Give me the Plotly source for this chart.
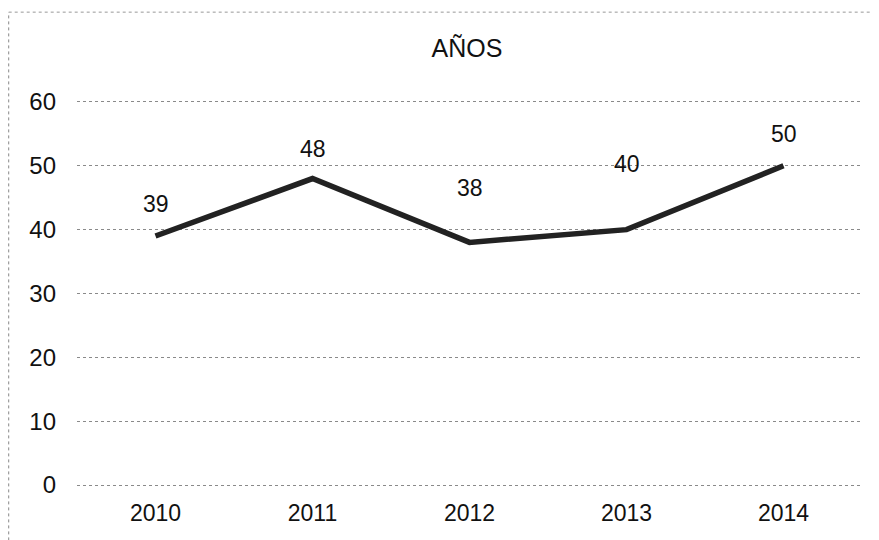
import plotly.graph_objects as go

years = ["2010", "2011", "2012", "2013", "2014"]
values = [39, 48, 38, 40, 50]
title_text = "AÑOS"

label_yshift = [32, 30, 54, 66, 32]

fig = go.Figure()
fig.add_trace(go.Scatter(
    x=years, y=values, mode="lines",
    line=dict(color="#222222", width=5.5),
    hoverinfo="skip", showlegend=False,
))

annotations = []
for i, (v, s) in enumerate(zip(values, label_yshift)):
    annotations.append(dict(x=i, y=v, xref="x", yref="y", text=str(v), showarrow=False,
                            yshift=s, font=dict(family="Arial", size=23, color="#111")))

# page body has an 8px default margin; compensate so the plot area sits where the reference's does
W, H = 871, 532
fig.update_layout(
    width=W, height=H,
    paper_bgcolor="white", plot_bgcolor="white",
    margin=dict(l=69, r=17, t=92, b=53),
    title=dict(text=title_text, x=(467 - 8) / W, xanchor="center", y=1 - (48 - 8) / H, yanchor="middle",
               font=dict(family="Arial", size=25, color="#111")),
    font=dict(family="Arial", size=23, color="#111"),
    annotations=annotations,
)
fig.update_xaxes(type="category", range=[-0.5, 4.5], showgrid=False, showline=False,
                 ticks="", tickfont=dict(size=23), ticklabelstandoff=10)
fig.update_yaxes(range=[-0.3, 60.3], dtick=10, showgrid=True, gridcolor="#8a8a8a", griddash="dot",
                 gridwidth=1, zeroline=False, showline=False, ticks="",
                 tickfont=dict(size=24), ticklabelstandoff=20)

# frame (left and top edges visible in the scan)
fig.add_shape(type="line", xref="paper", yref="paper", x0=-0.087, x1=-0.087, y0=-0.2, y1=1.227,
              line=dict(color="#888", width=1, dash="dot"))
fig.add_shape(type="line", xref="paper", yref="paper", x0=-0.087, x1=1.03, y0=1.227, y1=1.227,
              line=dict(color="#999", width=1, dash="dot"))

fig.write_html("out.html")
